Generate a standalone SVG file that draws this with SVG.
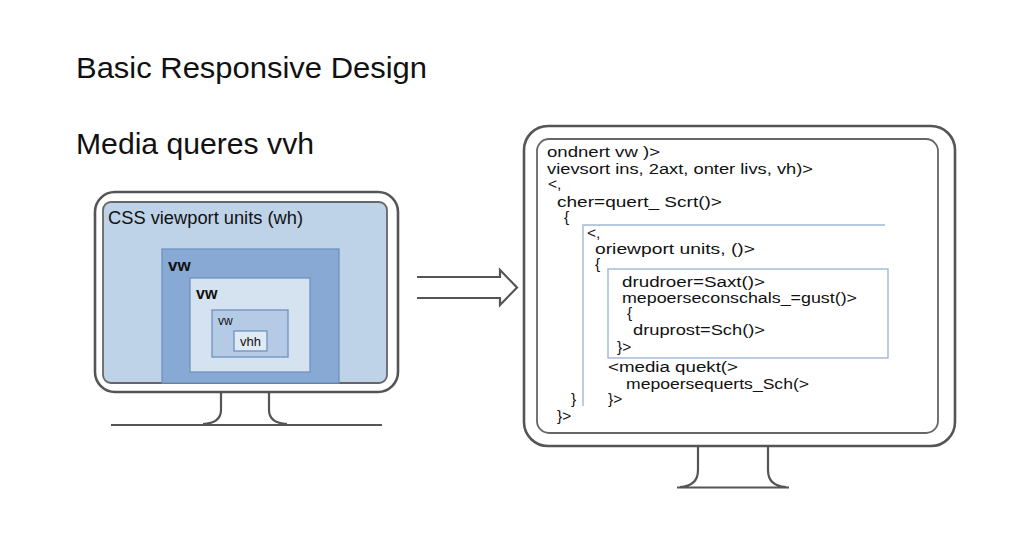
<svg xmlns="http://www.w3.org/2000/svg" width="1024" height="559" viewBox="0 0 1024 559">
<style>
.t{font-family:"Liberation Sans",Arial,sans-serif;fill:#111}
.title{font-size:29px}
.code{font-size:15.5px}
.mon{fill:#fff;stroke:#555;stroke-width:2.6}
.scr{stroke:#666;stroke-width:1.8}
.st{fill:none;stroke:#555;stroke-width:2.2}
.bx{stroke:#6e92bf;stroke-width:1.3}
.cb{fill:none;stroke:#9db8d6;stroke-width:1.4}
</style>
<rect width="1024" height="559" fill="#fff"/>
<g id="titles">
<text class="t title" x="76" y="78" textLength="351" lengthAdjust="spacingAndGlyphs">Basic Responsive Design</text>
<text class="t title" x="76" y="154" textLength="238" lengthAdjust="spacingAndGlyphs">Media queres vvh</text>
</g>
<g id="left-monitor">
<path class="st" d="M221,392 V410 Q221,423 203,424 M269,392 V410 Q269,423 287,424 M111,425 H382"/>
<rect class="mon" x="95" y="192" width="303" height="200" rx="20"/>
<rect class="scr" x="103" y="202" width="284" height="181" rx="8" fill="#bed2e8"/>
<text class="t" x="108" y="224" font-size="18" textLength="195" lengthAdjust="spacingAndGlyphs">CSS viewport units (wh)</text>
</g>
<g id="vw-outer">
<rect class="bx" x="162" y="249" width="177" height="134" fill="#87a9d3"/>
<text class="t" x="168" y="271" font-size="17" font-weight="bold">vw</text>
</g>
<g id="vw-middle">
<rect class="bx" x="190" y="278" width="120" height="94" fill="#d5e2f0"/>
<text class="t" x="196" y="299" font-size="16" font-weight="bold">vw</text>
</g>
<g id="vw-inner">
<rect class="bx" x="212" y="310" width="76" height="47" fill="#b5cbe5"/>
<text class="t" x="218" y="325" font-size="12">vw</text>
</g>
<g id="vhh">
<rect class="bx" x="234" y="331" width="33" height="20" fill="#e0eaf5"/>
<text class="t" x="240" y="346" font-size="13">vhh</text>
</g>
<g id="connectors">
<path d="M417,277 H500 V270 L517,287.5 L500,305 V298 H417" fill="none" stroke="#555" stroke-width="2.2" stroke-linejoin="miter"/>
</g>
<g id="right-monitor">
<path class="st" d="M698,446 V470 Q698,486 680,487 M768,446 V470 Q768,486 786,487 M677,487.5 H789"/>
<rect class="mon" x="524" y="126" width="431" height="320" rx="24"/>
<rect class="scr" x="537" y="139" width="401" height="294" rx="12" fill="#fff"/>
</g>
<g id="code">
<path class="cb" d="M885,225 H583 V406"/>
<rect class="cb" x="608" y="269" width="280" height="89"/>
<text class="t code" x="547" y="157" textLength="113" lengthAdjust="spacingAndGlyphs">ondnert vw )&gt;</text>
<text class="t code" x="547" y="174" textLength="266" lengthAdjust="spacingAndGlyphs">vievsort ins, 2axt, onter livs, vh)&gt;</text>
<text class="t code" x="548" y="189">&lt;,</text>
<text class="t code" x="557" y="207" textLength="165" lengthAdjust="spacingAndGlyphs">cher=quert_ Scrt()&gt;</text>
<text class="t code" x="564" y="222">{</text>
<text class="t code" x="587" y="238">&lt;,</text>
<text class="t code" x="595" y="254" textLength="160" lengthAdjust="spacingAndGlyphs">oriewport units, ()&gt;</text>
<text class="t code" x="595" y="269">{</text>
<text class="t code" x="622" y="287" textLength="143" lengthAdjust="spacingAndGlyphs">drudroer=Saxt()&gt;</text>
<text class="t code" x="622" y="303" textLength="235" lengthAdjust="spacingAndGlyphs">mepoerseconschals_=gust()&gt;</text>
<text class="t code" x="627" y="318">{</text>
<text class="t code" x="633" y="335" textLength="132" lengthAdjust="spacingAndGlyphs">druprost=Sch()&gt;</text>
<text class="t code" x="617" y="352">}&gt;</text>
<text class="t code" x="608" y="372" textLength="130" lengthAdjust="spacingAndGlyphs">&lt;media quekt(&gt;</text>
<text class="t code" x="626" y="389" textLength="183" lengthAdjust="spacingAndGlyphs">mepoersequerts_Sch(&gt;</text>
<text class="t code" x="571" y="404">}</text>
<text class="t code" x="608" y="404">}&gt;</text>
<text class="t code" x="557" y="421">}&gt;</text>
</g>
</svg>
